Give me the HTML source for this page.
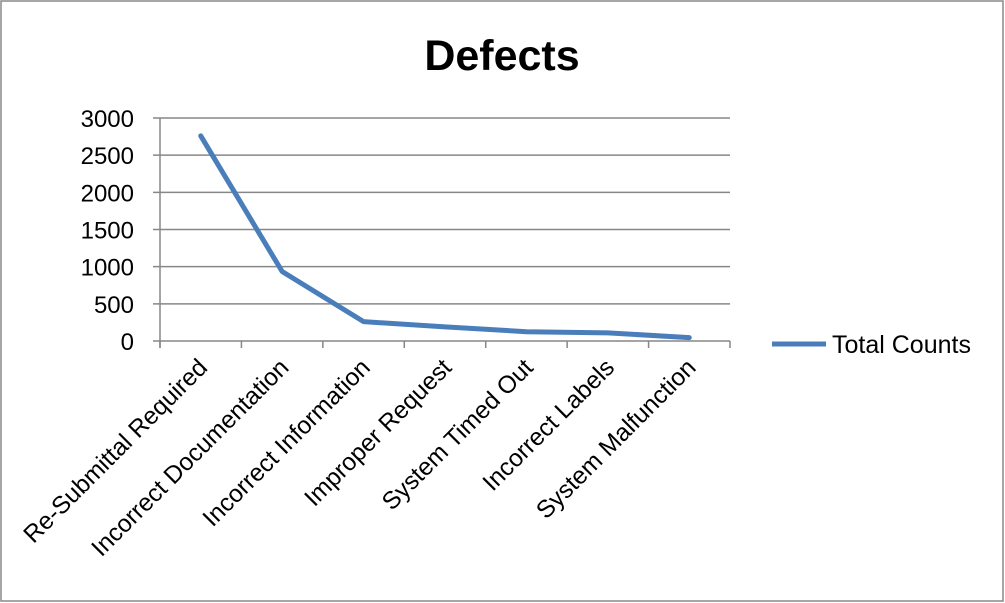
<!DOCTYPE html>
<html><head><meta charset="utf-8"><style>
html,body{margin:0;padding:0;background:#fff}
svg{display:block;font-family:"Liberation Sans",sans-serif}
</style></head><body>
<svg width="1005" height="603">
<rect x="1" y="1" width="1002" height="600" fill="#fff" stroke="#888" stroke-width="1.5"/>
<text x="502" y="70" text-anchor="middle" font-size="43" font-weight="bold">Defects</text>
<g id="grid"></g><g id="plot"></g>
<g>
<line x1="772" y1="344" x2="826" y2="344" stroke="#4a7ebb" stroke-width="5"/>
<text x="832" y="353" font-size="25">Total Counts</text>
</g>
</svg>
<script>
const categories=["Re-Submittal Required","Incorrect Documentation","Incorrect Information","Improper Request","System Timed Out","Incorrect Labels","System Malfunction"];
const values=[2760,935,260,190,125,110,45];
const yTicks=[0,500,1000,1500,2000,2500,3000];
const X0=160,X1=730,Y0=341,Y1=118,YMAX=3000;
const bw=(X1-X0)/categories.length;
const xs=i=>X0+bw*(i+0.5);
const ys=v=>Y0-(v/YMAX)*(Y0-Y1);
const NS="http://www.w3.org/2000/svg";
const g=document.getElementById('grid'),p=document.getElementById('plot');
function mk(tag,at,par){const e=document.createElementNS(NS,tag);for(const k in at)e.setAttribute(k,at[k]);par.appendChild(e);return e;}
yTicks.forEach(t=>{
 const y=ys(t);
 const l=mk('line',{x1:X0-7,x2:X1,y1:y,y2:y,stroke:'#878787','stroke-width':1.5},g);
 
 
 const tx=mk('text',{x:X0-26,y:y+9,'text-anchor':'end','font-size':24},g);
 tx.textContent=t;
 
 
});
const ax=mk('line',{x1:X0,x2:X0,y1:Y1,y2:Y0+7,stroke:'#878787','stroke-width':1.5},g);


for(let i=0;i<=categories.length;i++){
 const x=X0+bw*i;
 const t=mk('text',{},g); g.removeChild(t);
 const tk=mk('line',{x1:x,x2:x,y1:Y0,y2:Y0+7,stroke:'#878787','stroke-width':1.5},g);
 
 
}
categories.forEach((c,i)=>{
 const x=xs(i)+8,y=Y0+28;
 const t=mk('text',{x:x,y:y,'text-anchor':'end','font-size':24.5,transform:`rotate(-45 ${x} ${y})`},g);
 t.textContent=c;
 
 
});
const pts=values.map((v,i)=>xs(i)+','+ys(v)).join(' ');
const line=mk('polyline',{points:pts,fill:'none',stroke:'#4a7ebb','stroke-width':5,'stroke-linejoin':'round','stroke-linecap':'round'},p);


</script>
</body></html>
